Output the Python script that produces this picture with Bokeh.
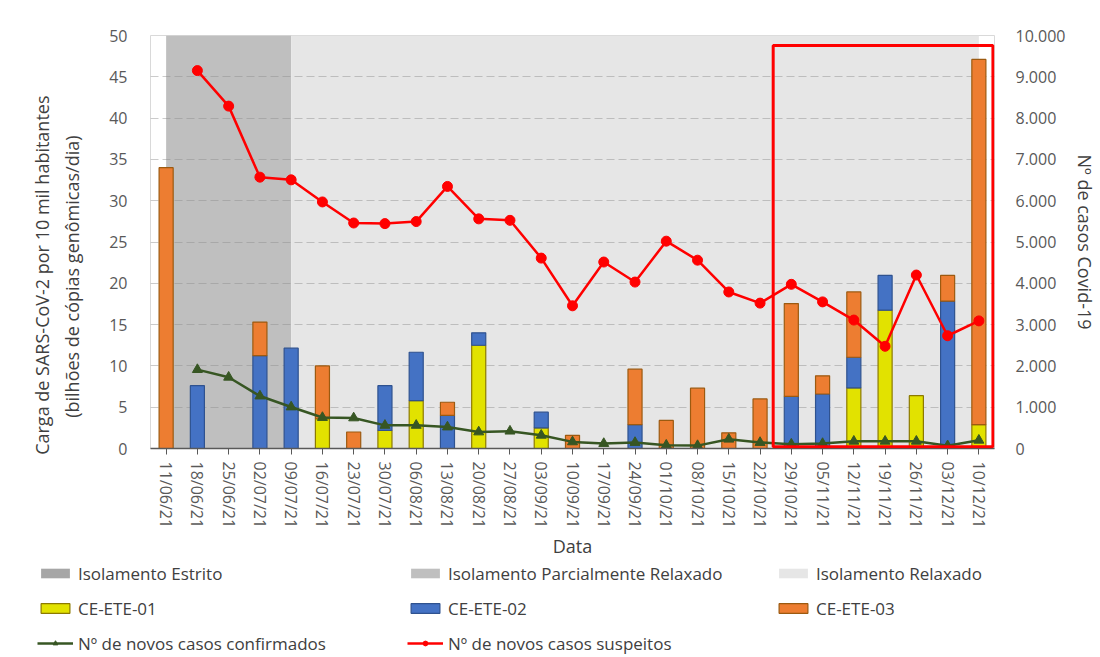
from bokeh.plotting import figure
from bokeh.layouts import column
from bokeh.models import (Range1d, LinearAxis, FixedTicker, ColumnDataSource,
                          Legend, LegendItem, BoxAnnotation, Title)
from bokeh.embed import file_html
from bokeh.resources import INLINE

# ---------------- data ----------------
datas = ["11/06/21", "18/06/21", "25/06/21", "02/07/21", "09/07/21", "16/07/21",
         "23/07/21", "30/07/21", "06/08/21", "13/08/21", "20/08/21", "27/08/21",
         "03/09/21", "10/09/21", "17/09/21", "24/09/21", "01/10/21", "08/10/21",
         "15/10/21", "22/10/21", "29/10/21", "05/11/21", "12/11/21", "19/11/21",
         "26/11/21", "03/12/21", "10/12/21"]

ce_ete_01 = [0, 0, 0, 0, 0, 3.6, 0, 2.2, 5.8, 0, 12.5, 0, 2.5, 0, 0, 0, 0, 0,
             0, 0, 0, 0, 7.35, 16.75, 6.4, 0, 2.9]
ce_ete_02 = [0, 7.6, 0, 11.25, 12.15, 0, 0, 5.4, 5.85, 4.0, 1.5, 0, 1.9, 0, 0,
             2.9, 0, 0, 0, 0, 6.3, 6.6, 3.7, 4.2, 0, 17.85, 0]
ce_ete_03 = [34.0, 0, 0, 4.05, 0, 6.4, 2.0, 0, 0, 1.6, 0, 0, 0, 1.6, 0, 6.7,
             3.4, 7.3, 1.9, 6.0, 11.25, 2.2, 7.9, 0, 0, 3.1, 44.2]

casos_suspeitos = [None, 9150, 8290, 6570, 6505, 5970, 5460, 5445, 5495, 6345,
                   5560, 5525, 4610, 3455, 4515, 4030, 5020, 4560, 3790, 3520,
                   3975, 3550, 3110, 2475, 4200, 2730, 3090]
casos_confirmados = [None, 1910, 1725, 1270, 1005, 750, 740, 560, 560, 520,
                     400, 420, 320, 160, 120, 145, 80, 70, 225, 145, 105, 120,
                     175, 175, 175, 65, 200]

fase_estrito = ()                          # not present in this period
fase_parcial = ("11/06/21", "09/07/21")
fase_relaxado = ("09/07/21", "10/12/21")
destaque = ("29/10/21", "10/12/21")

carga_ticks = list(range(0, 55, 5))
casos_ticks = list(range(0, 11000, 1000))

titulo_esq = ["Carga de SARS-CoV-2 por 10 mil habitantes",
              "(bilhões de cópias genômicas/dia)"]
titulo_dir = "Nº de casos Covid-19"
titulo_x = "Data"

# ---------------- styling ----------------
FONT = "Open Sans"
TICK_COLOR = "#595959"
TITLE_COLOR = "#404040"
C_EST, C_PAR, C_REL = "#a6a6a6", "#bfbfbf", "#e6e6e6"
BAR_STYLES = [("#e2e200", "#8c7a00"), ("#4472c4", "#2f528f"), ("#ed7d31", "#9c5a10")]
C_CONF, C_SUSP = "#375623", "#ff0000"

idx = {d: i for i, d in enumerate(datas)}
n = len(datas)
ytop = carga_ticks[-1]

W = 1100
H_MAIN = 561
H_LEG = 96

p = figure(width=W, height=H_MAIN, output_backend="svg", toolbar_location=None,
           x_range=Range1d(-0.5, n - 0.5), y_range=Range1d(0, ytop),
           min_border_left=150, min_border_right=106, min_border_top=35,
           min_border_bottom=111)
p.frame_align = False
p.extra_y_ranges = {"casos": Range1d(casos_ticks[0], casos_ticks[-1])}
p.background_fill_color = "white"
p.border_fill_color = "white"
p.outline_line_color = "#d9d9d9"


def fase_area(fase, color):
    xs = [idx[d] for d in fase]
    return p.varea(x=xs, y1=[0] * len(xs), y2=[ytop] * len(xs),
                   fill_color=color, level="image")


fase_area(fase_estrito, C_EST)
fase_area(fase_parcial, C_PAR)
fase_area(fase_relaxado, C_REL)

# stacked bars
base = [0.0] * n
for vals, (fill, line) in zip([ce_ete_01, ce_ete_02, ce_ete_03], BAR_STYLES):
    xs, bot, top = [], [], []
    for i, v in enumerate(vals):
        if v > 0:
            xs.append(i)
            bot.append(base[i])
            top.append(base[i] + v)
        base[i] += v
    src = ColumnDataSource(dict(x=xs, bottom=bot, top=top))
    p.vbar(x="x", bottom="bottom", top="top", width=0.45, source=src,
           fill_color=fill, line_color=line, line_width=1.2)


def serie(vals):
    xs = [i for i, v in enumerate(vals) if v is not None]
    ys = [v for v in vals if v is not None]
    return xs, ys


cx, cy = serie(casos_confirmados)
p.line(cx, cy, y_range_name="casos", line_color=C_CONF, line_width=2.5)
p.scatter(cx, cy, y_range_name="casos", marker="triangle", size=10,
          fill_color=C_CONF, line_color=C_CONF)
sx, sy = serie(casos_suspeitos)
p.line(sx, sy, y_range_name="casos", line_color=C_SUSP, line_width=2.5)
p.scatter(sx, sy, y_range_name="casos", marker="circle", size=10,
          fill_color=C_SUSP, line_color=C_SUSP)

# highlight box (kept inside the plot frame)
box = BoxAnnotation(left=idx[destaque[0]] - 0.58, right=idx[destaque[1]] + 0.45,
                    bottom=0.2, top=48.8, fill_color=None, fill_alpha=0,
                    line_color="#ff0000", line_alpha=1.0, line_width=3)
p.add_layout(box)

# grid
p.xgrid.visible = False
p.ygrid.ticker = FixedTicker(ticks=carga_ticks)
p.ygrid.grid_line_color = "#8c8c8c"
p.ygrid.grid_line_alpha = 0.45
p.ygrid.grid_line_dash = "8 4"

# left axis
ya = p.yaxis[0]
ya.ticker = FixedTicker(ticks=carga_ticks)
ya.axis_line_color = None
ya.major_tick_line_color = None
ya.minor_tick_line_color = None
ya.major_label_standoff = 17
ya.major_label_text_font = FONT
ya.major_label_text_font_size = "16px"
ya.major_label_text_color = TICK_COLOR

# spacer between tick labels and the two-line title (one invisible tick, no label)
spacer = LinearAxis(ticker=FixedTicker(ticks=[ytop]), major_label_overrides={ytop: ""},
                    major_tick_out=21, major_tick_in=0, major_label_standoff=0,
                    axis_line_color=None, major_tick_line_color=None,
                    minor_tick_line_color=None)
p.add_layout(spacer, "left")

# left axis title: two lines as side titles (inner line first)
for txt, off in [(titulo_esq[1], 100), (titulo_esq[0], 60)]:
    p.add_layout(Title(text=txt, align="right", offset=off, standoff=3.5,
                       text_font=FONT, text_font_size="18px",
                       text_font_style="normal", text_color=TITLE_COLOR), "left")

# right axis
ra = LinearAxis(y_range_name="casos", ticker=FixedTicker(ticks=casos_ticks),
                major_label_overrides={t: f"{t:,}".replace(",", ".") for t in casos_ticks})
ra.axis_line_color = None
ra.major_tick_line_color = None
ra.minor_tick_line_color = None
ra.major_label_standoff = 15
ra.major_label_text_font = FONT
ra.major_label_text_font_size = "16px"
ra.major_label_text_color = TICK_COLOR
ra.axis_label = titulo_dir
ra.axis_label_text_font = FONT
ra.axis_label_text_font_size = "18px"
ra.axis_label_text_font_style = "normal"
ra.axis_label_text_color = TITLE_COLOR
ra.axis_label_standoff = 5
p.add_layout(ra, "right")

# bottom axis
xa = p.xaxis[0]
xa.ticker = FixedTicker(ticks=list(range(n)))
xa.major_label_overrides = {i: d for i, d in enumerate(datas)}
xa.major_label_orientation = "vertical"
xa.major_tick_out = 6
xa.major_tick_in = 0
xa.minor_tick_line_color = None
xa.major_tick_line_color = TICK_COLOR
xa.axis_line_color = TICK_COLOR
xa.axis_line_width = 1.5
xa.major_label_standoff = 7
xa.major_label_text_font = FONT
xa.major_label_text_font_size = "16px"
xa.major_label_text_color = TICK_COLOR
xa.axis_label = titulo_x
xa.axis_label_text_font = FONT
xa.axis_label_text_font_size = "18px"
xa.axis_label_text_font_style = "normal"
xa.axis_label_text_color = TITLE_COLOR
xa.axis_label_standoff = 3

# ---------------- legend strip (separate figure below the chart) ----------------
pl = figure(width=W, height=H_LEG, output_backend="svg", toolbar_location=None,
            x_range=Range1d(0, W), y_range=Range1d(0, H_LEG),
            x_axis_type=None, y_axis_type=None,
            min_border_left=0, min_border_right=0, min_border_top=0,
            min_border_bottom=0)
pl.frame_align = False
pl.outline_line_color = None
pl.grid.visible = False
pl.background_fill_color = "white"
pl.border_fill_color = "white"

NAN = float("nan")


def proxy():
    # legend-only renderer: a single undefined point, nothing is drawn
    return ColumnDataSource(dict(x=[NAN], y=[NAN], y1=[NAN], y2=[NAN], top=[NAN]))


lg_est = pl.varea(source=proxy(), x="x", y1="y1", y2="y2", fill_color=C_EST)
lg_par = pl.varea(source=proxy(), x="x", y1="y1", y2="y2", fill_color=C_PAR)
lg_rel = pl.varea(source=proxy(), x="x", y1="y1", y2="y2", fill_color=C_REL)
lg_bars = [pl.vbar(source=proxy(), x="x", top="top", width=0.45, fill_color=f,
                   line_color=l, line_width=1.2) for f, l in BAR_STYLES]
lg_conf = [pl.line(source=proxy(), x="x", y="y", line_color=C_CONF, line_width=2.5),
           pl.scatter(source=proxy(), x="x", y="y", marker="triangle", size=10,
                      fill_color=C_CONF, line_color=C_CONF)]
lg_susp = [pl.line(source=proxy(), x="x", y="y", line_color=C_SUSP, line_width=2.5),
           pl.scatter(source=proxy(), x="x", y="y", marker="circle", size=10,
                      fill_color=C_SUSP, line_color=C_SUSP)]

legend_columns = [
    (37, [("Isolamento Estrito", [lg_est]), ("CE-ETE-01", [lg_bars[0]]),
          ("Nº de novos casos confirmados", lg_conf)]),
    (407, [("Isolamento Parcialmente Relaxado", [lg_par]), ("CE-ETE-02", [lg_bars[1]]),
           ("Nº de novos casos suspeitos", lg_susp)]),
    (775, [("Isolamento Relaxado", [lg_rel]), ("CE-ETE-03", [lg_bars[2]])]),
]
ITEM_H, SP = 23, 12
for vx, items in legend_columns:
    k = len(items)
    total = k * ITEM_H + (k - 1) * SP
    vy = H_LEG - 0.5 - total
    leg = Legend(items=[LegendItem(label=lab, renderers=rs) for lab, rs in items],
                 location=(vx, vy), orientation="vertical", padding=0, margin=0,
                 spacing=SP, label_height=ITEM_H, glyph_width=36, glyph_height=12,
                 label_standoff=5, label_text_font=FONT,
                 label_text_font_size="17px", label_text_color=TITLE_COLOR,
                 border_line_color=None, background_fill_alpha=0)
    pl.add_layout(leg)

layout = column(p, pl, spacing=0)
open("out.html", "w").write(file_html(layout, INLINE))
